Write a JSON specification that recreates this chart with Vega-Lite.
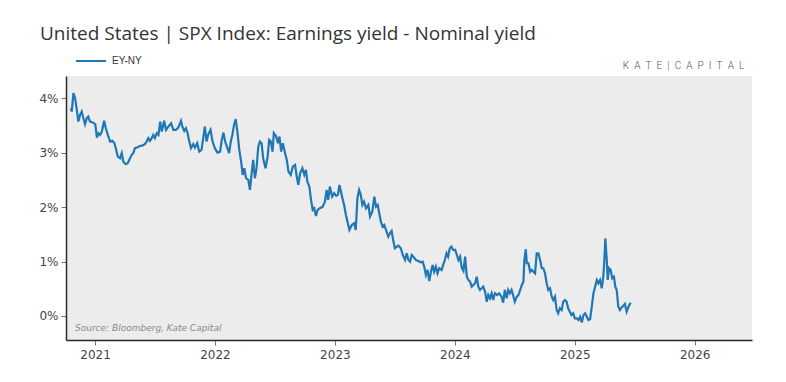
{
  "$schema": "https://vega.github.io/schema/vega-lite/v6.json",
  "width": 686,
  "height": 264,
  "autosize": "none",
  "padding": {"left": 66, "top": 76, "right": 34, "bottom": 42},
  "background": "white",
  "title": {
    "text": "United States | SPX Index: Earnings yield - Nominal yield",
    "anchor": "start",
    "frame": "group",
    "dx": -26,
    "offset": 34,
    "dy": 48,
    "baseline": "alphabetic",
    "font": "Open Sans",
    "fontSize": 19,
    "fontWeight": "normal",
    "color": "#333333"
  },
  "config": {
    "view": {"fill": "#ececec", "stroke": null},
    "axis": {
      "grid": false,
      "title": null,
      "labelFont": "DejaVu Sans",
      "labelFontSize": 12,
      "labelColor": "#444444",
      "domainColor": "#2a2a2a",
      "domainWidth": 1.5,
      "tickColor": "#777777",
      "tickSize": 5,
      "tickWidth": 1
    },
    "legend": {"padding": 0}
  },
  "datasets": {
    "series": [
      {"t": 2020.798, "v": 3.818}, {"t": 2020.806, "v": 3.756}, {"t": 2020.820, "v": 4.094}, {"t": 2020.834, "v": 4.002},
      {"t": 2020.848, "v": 3.787}, {"t": 2020.861, "v": 3.572}, {"t": 2020.875, "v": 3.695}, {"t": 2020.889, "v": 3.756},
      {"t": 2020.903, "v": 3.634}, {"t": 2020.917, "v": 3.524}, {"t": 2020.931, "v": 3.634}, {"t": 2020.944, "v": 3.664},
      {"t": 2020.958, "v": 3.572}, {"t": 2020.977, "v": 3.561}, {"t": 2021.002, "v": 3.524}, {"t": 2021.016, "v": 3.278},
      {"t": 2021.029, "v": 3.358}, {"t": 2021.043, "v": 3.327}, {"t": 2021.057, "v": 3.388}, {"t": 2021.076, "v": 3.585},
      {"t": 2021.090, "v": 3.450}, {"t": 2021.107, "v": 3.327}, {"t": 2021.126, "v": 3.204}, {"t": 2021.145, "v": 3.217},
      {"t": 2021.162, "v": 3.175}, {"t": 2021.173, "v": 3.083}, {"t": 2021.190, "v": 2.928}, {"t": 2021.209, "v": 2.899},
      {"t": 2021.223, "v": 2.991}, {"t": 2021.236, "v": 2.836}, {"t": 2021.256, "v": 2.789}, {"t": 2021.273, "v": 2.807},
      {"t": 2021.292, "v": 2.899}, {"t": 2021.306, "v": 2.960}, {"t": 2021.319, "v": 2.991}, {"t": 2021.333, "v": 3.083},
      {"t": 2021.356, "v": 3.101}, {"t": 2021.375, "v": 3.125}, {"t": 2021.394, "v": 3.131}, {"t": 2021.416, "v": 3.156},
      {"t": 2021.430, "v": 3.204}, {"t": 2021.444, "v": 3.267}, {"t": 2021.458, "v": 3.217}, {"t": 2021.472, "v": 3.267},
      {"t": 2021.485, "v": 3.327}, {"t": 2021.499, "v": 3.267}, {"t": 2021.515, "v": 3.358}, {"t": 2021.529, "v": 3.327},
      {"t": 2021.543, "v": 3.572}, {"t": 2021.557, "v": 3.388}, {"t": 2021.576, "v": 3.585}, {"t": 2021.592, "v": 3.419},
      {"t": 2021.611, "v": 3.480}, {"t": 2021.634, "v": 3.542}, {"t": 2021.653, "v": 3.419}, {"t": 2021.675, "v": 3.419},
      {"t": 2021.694, "v": 3.461}, {"t": 2021.717, "v": 3.585}, {"t": 2021.728, "v": 3.480}, {"t": 2021.744, "v": 3.401},
      {"t": 2021.758, "v": 3.450}, {"t": 2021.772, "v": 3.358}, {"t": 2021.783, "v": 3.235}, {"t": 2021.800, "v": 3.083},
      {"t": 2021.819, "v": 3.156}, {"t": 2021.833, "v": 3.094}, {"t": 2021.852, "v": 3.175}, {"t": 2021.869, "v": 3.020},
      {"t": 2021.888, "v": 3.051}, {"t": 2021.902, "v": 3.267}, {"t": 2021.916, "v": 3.480}, {"t": 2021.930, "v": 3.204},
      {"t": 2021.943, "v": 3.327}, {"t": 2021.963, "v": 3.419}, {"t": 2021.980, "v": 3.204}, {"t": 2021.999, "v": 3.083},
      {"t": 2022.021, "v": 3.002}, {"t": 2022.043, "v": 3.020}, {"t": 2022.057, "v": 3.235}, {"t": 2022.071, "v": 3.369},
      {"t": 2022.085, "v": 3.204}, {"t": 2022.104, "v": 3.083}, {"t": 2022.118, "v": 2.991}, {"t": 2022.132, "v": 3.204},
      {"t": 2022.145, "v": 3.327}, {"t": 2022.159, "v": 3.511}, {"t": 2022.173, "v": 3.616}, {"t": 2022.187, "v": 3.388},
      {"t": 2022.203, "v": 3.051}, {"t": 2022.220, "v": 2.807}, {"t": 2022.231, "v": 2.592}, {"t": 2022.245, "v": 2.715},
      {"t": 2022.259, "v": 2.531}, {"t": 2022.278, "v": 2.500}, {"t": 2022.292, "v": 2.316}, {"t": 2022.306, "v": 2.623},
      {"t": 2022.319, "v": 2.868}, {"t": 2022.333, "v": 2.531}, {"t": 2022.347, "v": 2.715}, {"t": 2022.361, "v": 3.112},
      {"t": 2022.375, "v": 3.204}, {"t": 2022.389, "v": 3.175}, {"t": 2022.402, "v": 2.899}, {"t": 2022.422, "v": 2.715},
      {"t": 2022.439, "v": 2.928}, {"t": 2022.452, "v": 3.235}, {"t": 2022.466, "v": 3.204}, {"t": 2022.480, "v": 3.020},
      {"t": 2022.491, "v": 3.358}, {"t": 2022.511, "v": 3.296}, {"t": 2022.525, "v": 3.175}, {"t": 2022.538, "v": 3.296},
      {"t": 2022.552, "v": 3.020}, {"t": 2022.566, "v": 3.175}, {"t": 2022.585, "v": 2.991}, {"t": 2022.599, "v": 2.868},
      {"t": 2022.613, "v": 2.653}, {"t": 2022.632, "v": 2.592}, {"t": 2022.649, "v": 2.744}, {"t": 2022.668, "v": 2.776},
      {"t": 2022.682, "v": 2.561}, {"t": 2022.695, "v": 2.408}, {"t": 2022.710, "v": 2.623}, {"t": 2022.729, "v": 2.715},
      {"t": 2022.745, "v": 2.592}, {"t": 2022.759, "v": 2.684}, {"t": 2022.770, "v": 2.469}, {"t": 2022.787, "v": 2.377},
      {"t": 2022.801, "v": 2.132}, {"t": 2022.815, "v": 1.949}, {"t": 2022.828, "v": 1.980}, {"t": 2022.842, "v": 1.838},
      {"t": 2022.856, "v": 1.949}, {"t": 2022.875, "v": 1.980}, {"t": 2022.898, "v": 2.009}, {"t": 2022.917, "v": 2.101},
      {"t": 2022.931, "v": 2.316}, {"t": 2022.944, "v": 2.132}, {"t": 2022.958, "v": 2.377}, {"t": 2022.977, "v": 2.193},
      {"t": 2022.994, "v": 2.256}, {"t": 2023.011, "v": 2.206}, {"t": 2023.025, "v": 2.224}, {"t": 2023.038, "v": 2.408},
      {"t": 2023.063, "v": 2.164}, {"t": 2023.077, "v": 2.040}, {"t": 2023.092, "v": 1.857}, {"t": 2023.105, "v": 1.733},
      {"t": 2023.121, "v": 1.581}, {"t": 2023.141, "v": 1.673}, {"t": 2023.160, "v": 1.704}, {"t": 2023.174, "v": 1.581},
      {"t": 2023.188, "v": 2.164}, {"t": 2023.202, "v": 2.316}, {"t": 2023.216, "v": 2.224}, {"t": 2023.229, "v": 2.040},
      {"t": 2023.243, "v": 2.101}, {"t": 2023.260, "v": 1.980}, {"t": 2023.279, "v": 2.040}, {"t": 2023.293, "v": 1.825},
      {"t": 2023.312, "v": 1.917}, {"t": 2023.329, "v": 2.193}, {"t": 2023.343, "v": 2.009}, {"t": 2023.357, "v": 2.040},
      {"t": 2023.370, "v": 1.888}, {"t": 2023.384, "v": 1.733}, {"t": 2023.398, "v": 1.642}, {"t": 2023.412, "v": 1.673},
      {"t": 2023.426, "v": 1.581}, {"t": 2023.445, "v": 1.458}, {"t": 2023.459, "v": 1.520}, {"t": 2023.473, "v": 1.563},
      {"t": 2023.486, "v": 1.397}, {"t": 2023.500, "v": 1.244}, {"t": 2023.516, "v": 1.274}, {"t": 2023.530, "v": 1.292},
      {"t": 2023.550, "v": 1.244}, {"t": 2023.566, "v": 1.121}, {"t": 2023.585, "v": 1.029}, {"t": 2023.599, "v": 1.153},
      {"t": 2023.613, "v": 1.029}, {"t": 2023.627, "v": 0.998}, {"t": 2023.641, "v": 1.121}, {"t": 2023.654, "v": 1.090},
      {"t": 2023.676, "v": 1.029}, {"t": 2023.695, "v": 1.011}, {"t": 2023.715, "v": 0.987}, {"t": 2023.732, "v": 0.998},
      {"t": 2023.745, "v": 0.906}, {"t": 2023.759, "v": 0.754}, {"t": 2023.773, "v": 0.846}, {"t": 2023.787, "v": 0.643},
      {"t": 2023.801, "v": 0.814}, {"t": 2023.815, "v": 0.938}, {"t": 2023.828, "v": 0.814}, {"t": 2023.842, "v": 0.906},
      {"t": 2023.856, "v": 0.785}, {"t": 2023.870, "v": 0.877}, {"t": 2023.890, "v": 0.846}, {"t": 2023.903, "v": 0.938},
      {"t": 2023.917, "v": 1.029}, {"t": 2023.931, "v": 1.153}, {"t": 2023.944, "v": 1.090}, {"t": 2023.958, "v": 1.244},
      {"t": 2023.972, "v": 1.274}, {"t": 2023.986, "v": 1.213}, {"t": 2024.003, "v": 1.213}, {"t": 2024.017, "v": 1.121},
      {"t": 2024.030, "v": 1.029}, {"t": 2024.044, "v": 1.090}, {"t": 2024.058, "v": 0.882}, {"t": 2024.072, "v": 0.827},
      {"t": 2024.086, "v": 1.090}, {"t": 2024.100, "v": 0.722}, {"t": 2024.113, "v": 0.662}, {"t": 2024.127, "v": 0.631},
      {"t": 2024.141, "v": 0.539}, {"t": 2024.155, "v": 0.570}, {"t": 2024.169, "v": 0.601}, {"t": 2024.183, "v": 0.722},
      {"t": 2024.196, "v": 0.539}, {"t": 2024.210, "v": 0.478}, {"t": 2024.224, "v": 0.509}, {"t": 2024.237, "v": 0.539},
      {"t": 2024.252, "v": 0.447}, {"t": 2024.266, "v": 0.263}, {"t": 2024.279, "v": 0.386}, {"t": 2024.293, "v": 0.325},
      {"t": 2024.307, "v": 0.417}, {"t": 2024.320, "v": 0.294}, {"t": 2024.334, "v": 0.417}, {"t": 2024.354, "v": 0.386},
      {"t": 2024.370, "v": 0.417}, {"t": 2024.390, "v": 0.355}, {"t": 2024.403, "v": 0.244}, {"t": 2024.417, "v": 0.478},
      {"t": 2024.432, "v": 0.325}, {"t": 2024.445, "v": 0.478}, {"t": 2024.459, "v": 0.417}, {"t": 2024.473, "v": 0.478},
      {"t": 2024.486, "v": 0.386}, {"t": 2024.500, "v": 0.263}, {"t": 2024.517, "v": 0.355}, {"t": 2024.531, "v": 0.386},
      {"t": 2024.545, "v": 0.478}, {"t": 2024.559, "v": 0.570}, {"t": 2024.572, "v": 0.631}, {"t": 2024.580, "v": 1.029},
      {"t": 2024.592, "v": 1.226}, {"t": 2024.600, "v": 0.969}, {"t": 2024.614, "v": 0.969}, {"t": 2024.628, "v": 0.814},
      {"t": 2024.642, "v": 0.846}, {"t": 2024.655, "v": 0.814}, {"t": 2024.669, "v": 0.785}, {"t": 2024.683, "v": 1.153},
      {"t": 2024.697, "v": 1.153}, {"t": 2024.711, "v": 1.029}, {"t": 2024.725, "v": 0.877}, {"t": 2024.738, "v": 0.877},
      {"t": 2024.752, "v": 0.785}, {"t": 2024.766, "v": 0.601}, {"t": 2024.779, "v": 0.478}, {"t": 2024.794, "v": 0.509},
      {"t": 2024.808, "v": 0.355}, {"t": 2024.821, "v": 0.294}, {"t": 2024.835, "v": 0.355}, {"t": 2024.849, "v": 0.110},
      {"t": 2024.862, "v": 0.050}, {"t": 2024.876, "v": 0.142}, {"t": 2024.891, "v": 0.110}, {"t": 2024.904, "v": 0.263},
      {"t": 2024.918, "v": 0.294}, {"t": 2024.932, "v": 0.263}, {"t": 2024.945, "v": 0.142}, {"t": 2024.959, "v": 0.079},
      {"t": 2024.973, "v": 0.018}, {"t": 2024.987, "v": 0.050}, {"t": 2025.001, "v": -0.042}, {"t": 2025.018, "v": -0.042},
      {"t": 2025.031, "v": -0.074}, {"t": 2025.045, "v": -0.013}, {"t": 2025.059, "v": -0.119}, {"t": 2025.073, "v": 0.018},
      {"t": 2025.087, "v": 0.050}, {"t": 2025.101, "v": -0.013}, {"t": 2025.114, "v": -0.074}, {"t": 2025.128, "v": -0.061},
      {"t": 2025.142, "v": 0.171}, {"t": 2025.156, "v": 0.417}, {"t": 2025.170, "v": 0.539}, {"t": 2025.184, "v": 0.662},
      {"t": 2025.197, "v": 0.601}, {"t": 2025.211, "v": 0.662}, {"t": 2025.225, "v": 0.509}, {"t": 2025.238, "v": 0.722},
      {"t": 2025.247, "v": 1.029}, {"t": 2025.255, "v": 1.425}, {"t": 2025.267, "v": 1.029}, {"t": 2025.275, "v": 0.662},
      {"t": 2025.286, "v": 0.877}, {"t": 2025.300, "v": 0.846}, {"t": 2025.313, "v": 0.693}, {"t": 2025.327, "v": 0.722},
      {"t": 2025.338, "v": 0.539}, {"t": 2025.350, "v": 0.478}, {"t": 2025.363, "v": 0.171}, {"t": 2025.377, "v": 0.110},
      {"t": 2025.391, "v": 0.160}, {"t": 2025.404, "v": 0.184}, {"t": 2025.418, "v": 0.221}, {"t": 2025.433, "v": 0.079},
      {"t": 2025.446, "v": 0.160}, {"t": 2025.466, "v": 0.244}
    ],
    "logo": [{"label": "K\u2002A\u2002T\u2002E\u2002|\u2002C\u2002A\u2002P\u2002I\u2002T\u2002A\u2002L"}],
    "source": [{"label": "Source: Bloomberg, Kate Capital"}]
  },
  "encoding": {
    "x": {
      "type": "quantitative",
      "scale": {"domain": [2020.758, 2026.478], "nice": false, "zero": false},
      "axis": {"values": [2021, 2022, 2023, 2024, 2025, 2026], "format": "d", "labelPadding": 4, "labelFlush": false}
    },
    "y": {
      "type": "quantitative",
      "scale": {"domain": [-0.441, 4.409], "nice": false, "zero": false},
      "axis": {"values": [0, 1, 2, 3, 4], "labelExpr": "datum.value + '%'", "labelPadding": 3, "labelFlush": false}
    }
  },
  "layer": [
    {
      "data": {"name": "series"},
      "mark": {"type": "line", "strokeWidth": 2.2, "interpolate": "linear"},
      "encoding": {
        "x": {"field": "t", "type": "quantitative"},
        "y": {"field": "v", "type": "quantitative"},
        "color": {
          "datum": "EY-NY",
          "type": "nominal",
          "scale": {"range": ["#1f77b4"]},
          "legend": {
            "title": null,
            "orient": "none",
            "legendX": 9,
            "legendY": -31,
            "symbolType": "stroke",
            "symbolSize": 900,
            "symbolStrokeWidth": 2,
            "labelFont": "Liberation Sans",
            "labelFontSize": 10,
            "labelColor": "#333333",
            "labelOffset": 5
          }
        }
      }
    },
    {
      "data": {"name": "logo"},
      "mark": {"type": "text", "font": "Roboto", "fontWeight": 300, "fontSize": 10, "color": "#555555", "align": "center", "baseline": "middle"},
      "encoding": {
        "x": {"datum": 2025.907, "type": "quantitative"},
        "y": {"datum": 4.593, "type": "quantitative"},
        "text": {"field": "label"}
      }
    },
    {
      "data": {"name": "source"},
      "mark": {"type": "text", "font": "DejaVu Sans", "fontStyle": "italic", "fontSize": 9, "color": "#888888", "align": "left", "baseline": "middle"},
      "encoding": {
        "x": {"datum": 2020.833, "type": "quantitative"},
        "y": {"datum": -0.22, "type": "quantitative"},
        "text": {"field": "label"}
      }
    }
  ]
}
